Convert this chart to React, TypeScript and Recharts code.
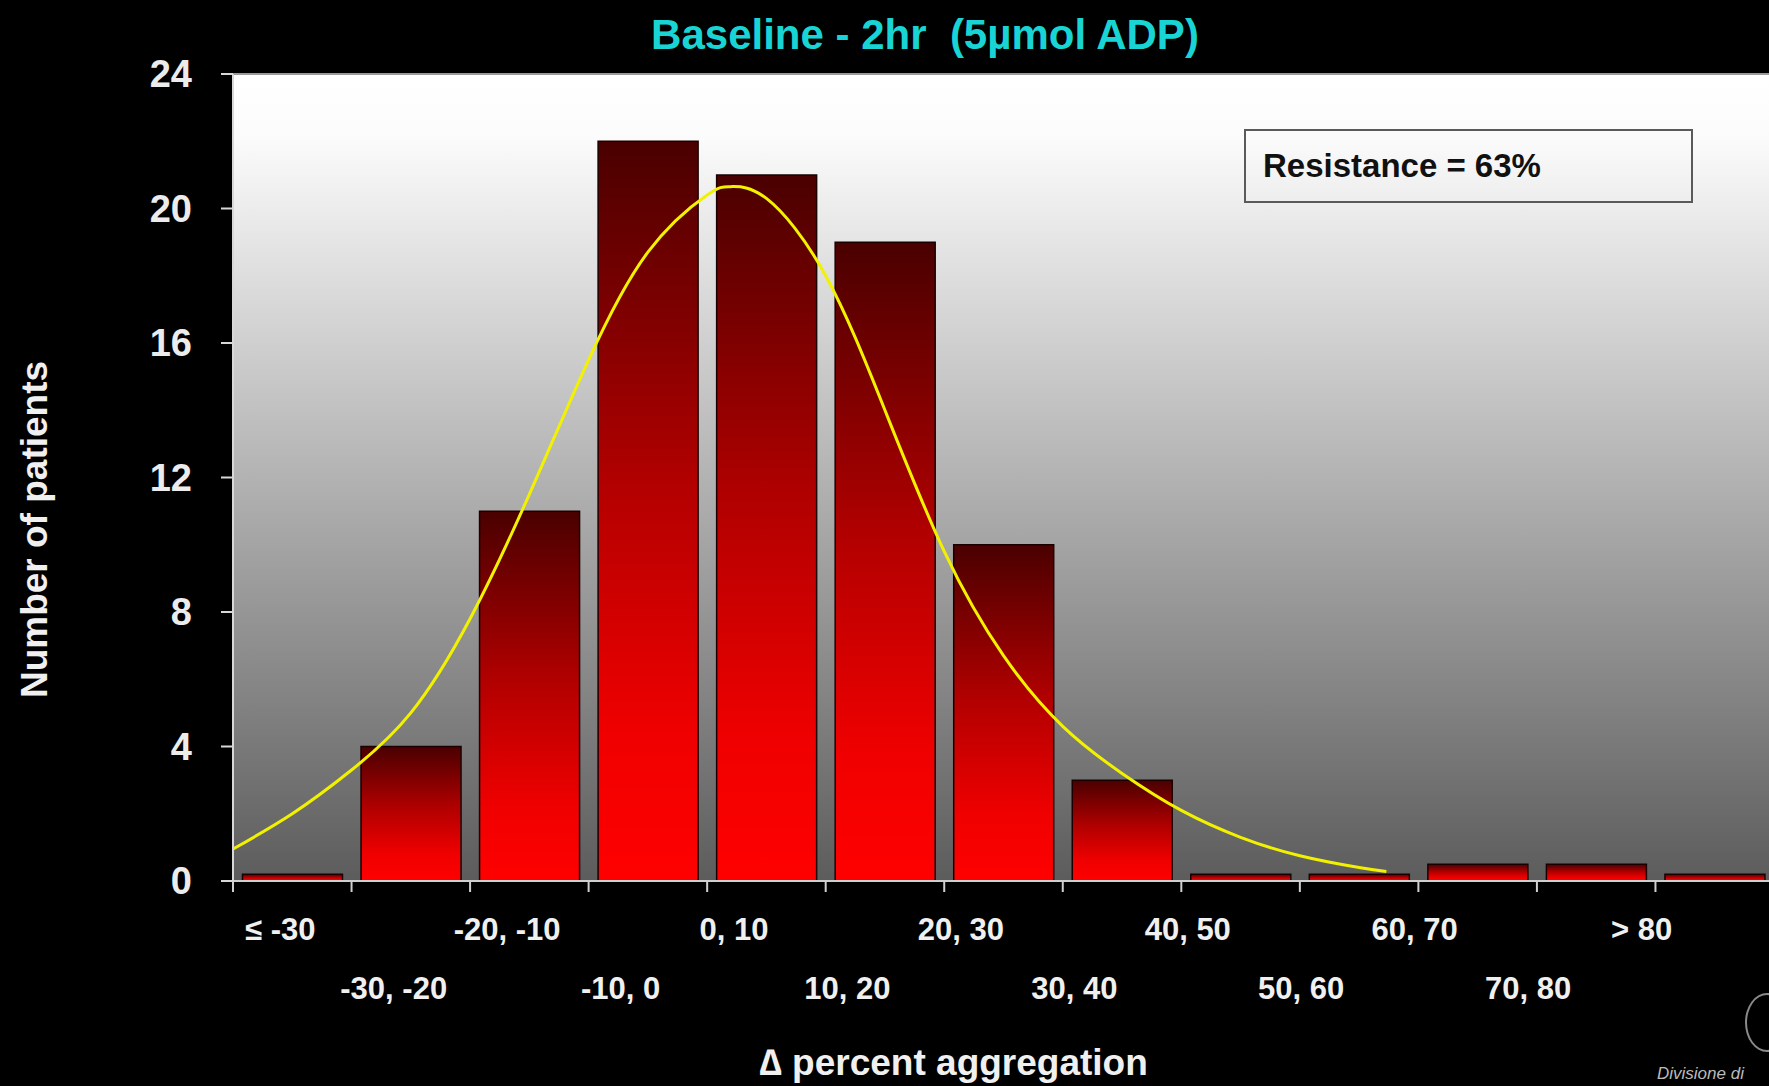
import React from 'react'
import {
    ComposedChart,
    Bar,
    Line,
    XAxis,
    YAxis,
    CartesianGrid,
    ReferenceLine,
    Label
} from 'recharts'

const binLabels = ['≤ -30', '-30, -20', '-20, -10', '-10, 0', '0, 10', '10, 20', '20, 30', '30, 40', '40, 50', '50, 60', '60, 70', '70, 80', '> 80']
const patientCounts = [0.2, 4, 11, 22, 21, 19, 10, 3, 0.2, 0.2, 0.5, 0.5, 0.2]

// fitted curve, x in bin units (0 = left edge of first bin)
const curveX = [0, 0.5, 1, 1.5, 2, 2.5, 3, 3.5, 4, 4.2, 4.5, 5, 5.5, 6, 6.5, 7, 7.5, 8, 8.5, 9, 9.5, 9.73]
const curveY = [0.95, 2.0, 3.3, 5.0, 7.8, 11.5, 15.5, 18.7, 20.4, 20.65, 20.3, 18.0, 14.0, 9.8, 6.7, 4.6, 3.2, 2.1, 1.3, 0.75, 0.4, 0.28]

const yTicks = [0, 4, 8, 12, 16, 20, 24]

const FONT = '"Liberation Sans", Arial, sans-serif'

const bins = binLabels.map((bin, i) => ({ bin, count: patientCounts[i] }))
const curve = curveX.map((x, i) => ({ x, y: curveY[i] }))

function BinTick(props: any) {
    const { x, y, payload, index, width, visibleTicksCount } = props
    const half = payload?.offset ?? width / visibleTicksCount / 2
    const row = index % 2
    const shift = -(12 + 5.1 * index)
    return (
        <g>
            <line
            x1={x - half}
            x2={x - half}
            y1={y}
            y2={y + 11}
            stroke="#d0d0d0"
            strokeWidth={2}
            />
            <text
            x={x + shift}
            y={y + (row ? 118 : 59)}
            textAnchor="middle"
            fill="#f0f0f0"
            fontSize={31}
            fontWeight="bold"
            fontFamily={FONT}
            >
                {payload.value}
            </text>
        </g>
    )
}

const YTitle = ({ viewBox }: any) => {
    const cx = viewBox.x + 34
    const cy = viewBox.y + viewBox.height / 2 + 52
    return (
        <text
        x={cx}
        y={cy}
        transform={`rotate(-90 ${cx} ${cy})`}
        textAnchor="middle"
        dominantBaseline="central"
        fill="#f0f0f0"
        fontSize={37}
        fontWeight="bold"
        fontFamily={FONT}
        >
            Number of patients
        </text>
    )
}

const XTitle = ({ viewBox }: any) => (
    <text
    x={viewBox.x + viewBox.width / 2 - 50}
    y={viewBox.y + 194}
    textAnchor="middle"
    fill="#f0f0f0"
    fontSize={37}
    fontWeight="bold"
    fontFamily={FONT}
    >
        ∆ percent aggregation
    </text>
)

export default function App() {
  return (
    <div style={{
        position: 'absolute',
        left: 0,
        top: 0,
        width: 1769,
        height: 1086,
        background: '#000',
        overflow: 'hidden',
        fontFamily: FONT
    }}>
        <div style={{
            position: 'absolute',
            left: 525,
            top: 14,
            width: 800,
            textAlign: 'center',
            color: '#19d4d4',
            fontSize: 42,
            lineHeight: '42px',
            fontWeight: 'bold',
            whiteSpace: 'pre'
        }}>
            {'Baseline - 2hr  (5µmol ADP)'}
        </div>

        <ComposedChart
        width={1800}
        height={1086}
        data={bins}
        margin={{ top: 74, right: 26, bottom: 0, left: 0 }}
        barCategoryGap="8%"
        >
            <defs>
                <linearGradient id="bgGrad" x1={0} y1={0} x2={0} y2={1}>
                    <stop offset="0%" stopColor="#ffffff" />
                    <stop offset="8%" stopColor="#fbfbfb" />
                    <stop offset="100%" stopColor="#5c5c5c" />
                </linearGradient>
                <linearGradient id="barGrad" x1={0} y1={0} x2={0} y2={1}>
                    <stop offset="0%" stopColor="#4a0000" />
                    <stop offset="45%" stopColor="#b00000" />
                    <stop offset="80%" stopColor="#f00000" />
                    <stop offset="100%" stopColor="#ff0000" />
                </linearGradient>
            </defs>

            <CartesianGrid
            horizontal={false}
            vertical={false}
            fill="url(#bgGrad)"
            />

            <XAxis
            dataKey="bin"
            height={205}
            interval={0}
            tick={<BinTick />}
            tickLine={false}
            tickSize={0}
            tickMargin={0}
            axisLine={{ stroke: '#cfcfcf', strokeWidth: 2 }}
            >
                <Label content={XTitle} />
            </XAxis>

            <XAxis
            xAxisId="curve"
            type="number"
            dataKey="x"
            domain={[0, 13]}
            hide
            />

            <YAxis
            domain={[0, 24]}
            ticks={yTicks}
            interval={0}
            width={233}
            tickSize={12}
            tickMargin={29}
            axisLine={{ stroke: '#d8d8d8', strokeWidth: 2 }}
            tickLine={{ stroke: '#d8d8d8', strokeWidth: 2 }}
            tick={{ fill: '#ececec', fontSize: 38, fontWeight: 'bold', fontFamily: FONT }}
            >
                <Label content={YTitle} />
            </YAxis>

            <ReferenceLine y={24} stroke="#9a9a9a" strokeWidth={2} />

            <Bar
            dataKey="count"
            fill="url(#barGrad)"
            stroke="#1a0000"
            strokeWidth={1.5}
            isAnimationActive={false}
            />

            <Line
            xAxisId="curve"
            data={curve}
            dataKey="y"
            type="natural"
            stroke="#f2f200"
            strokeWidth={3}
            dot={false}
            activeDot={false}
            isAnimationActive={false}
            />
        </ComposedChart>

        <div style={{
            position: 'absolute',
            left: 1244,
            top: 129,
            width: 449,
            height: 74,
            boxSizing: 'border-box',
            border: '2px solid #5a5a5a',
            display: 'flex',
            alignItems: 'center',
            paddingLeft: 17,
            color: '#111',
            fontSize: 33,
            fontWeight: 'bold'
        }}>
            Resistance = 63%
        </div>

        <div style={{
            position: 'absolute',
            left: 1745,
            top: 993,
            width: 40,
            height: 55,
            border: '2px solid #8a8a8a',
            borderRadius: '50%'
        }} />
        <div style={{
            position: 'absolute',
            left: 1657,
            top: 1064,
            color: '#bbbbbb',
            fontSize: 17,
            fontStyle: 'italic',
            whiteSpace: 'nowrap'
        }}>
            Divisione di
        </div>
    </div>
  )
}
